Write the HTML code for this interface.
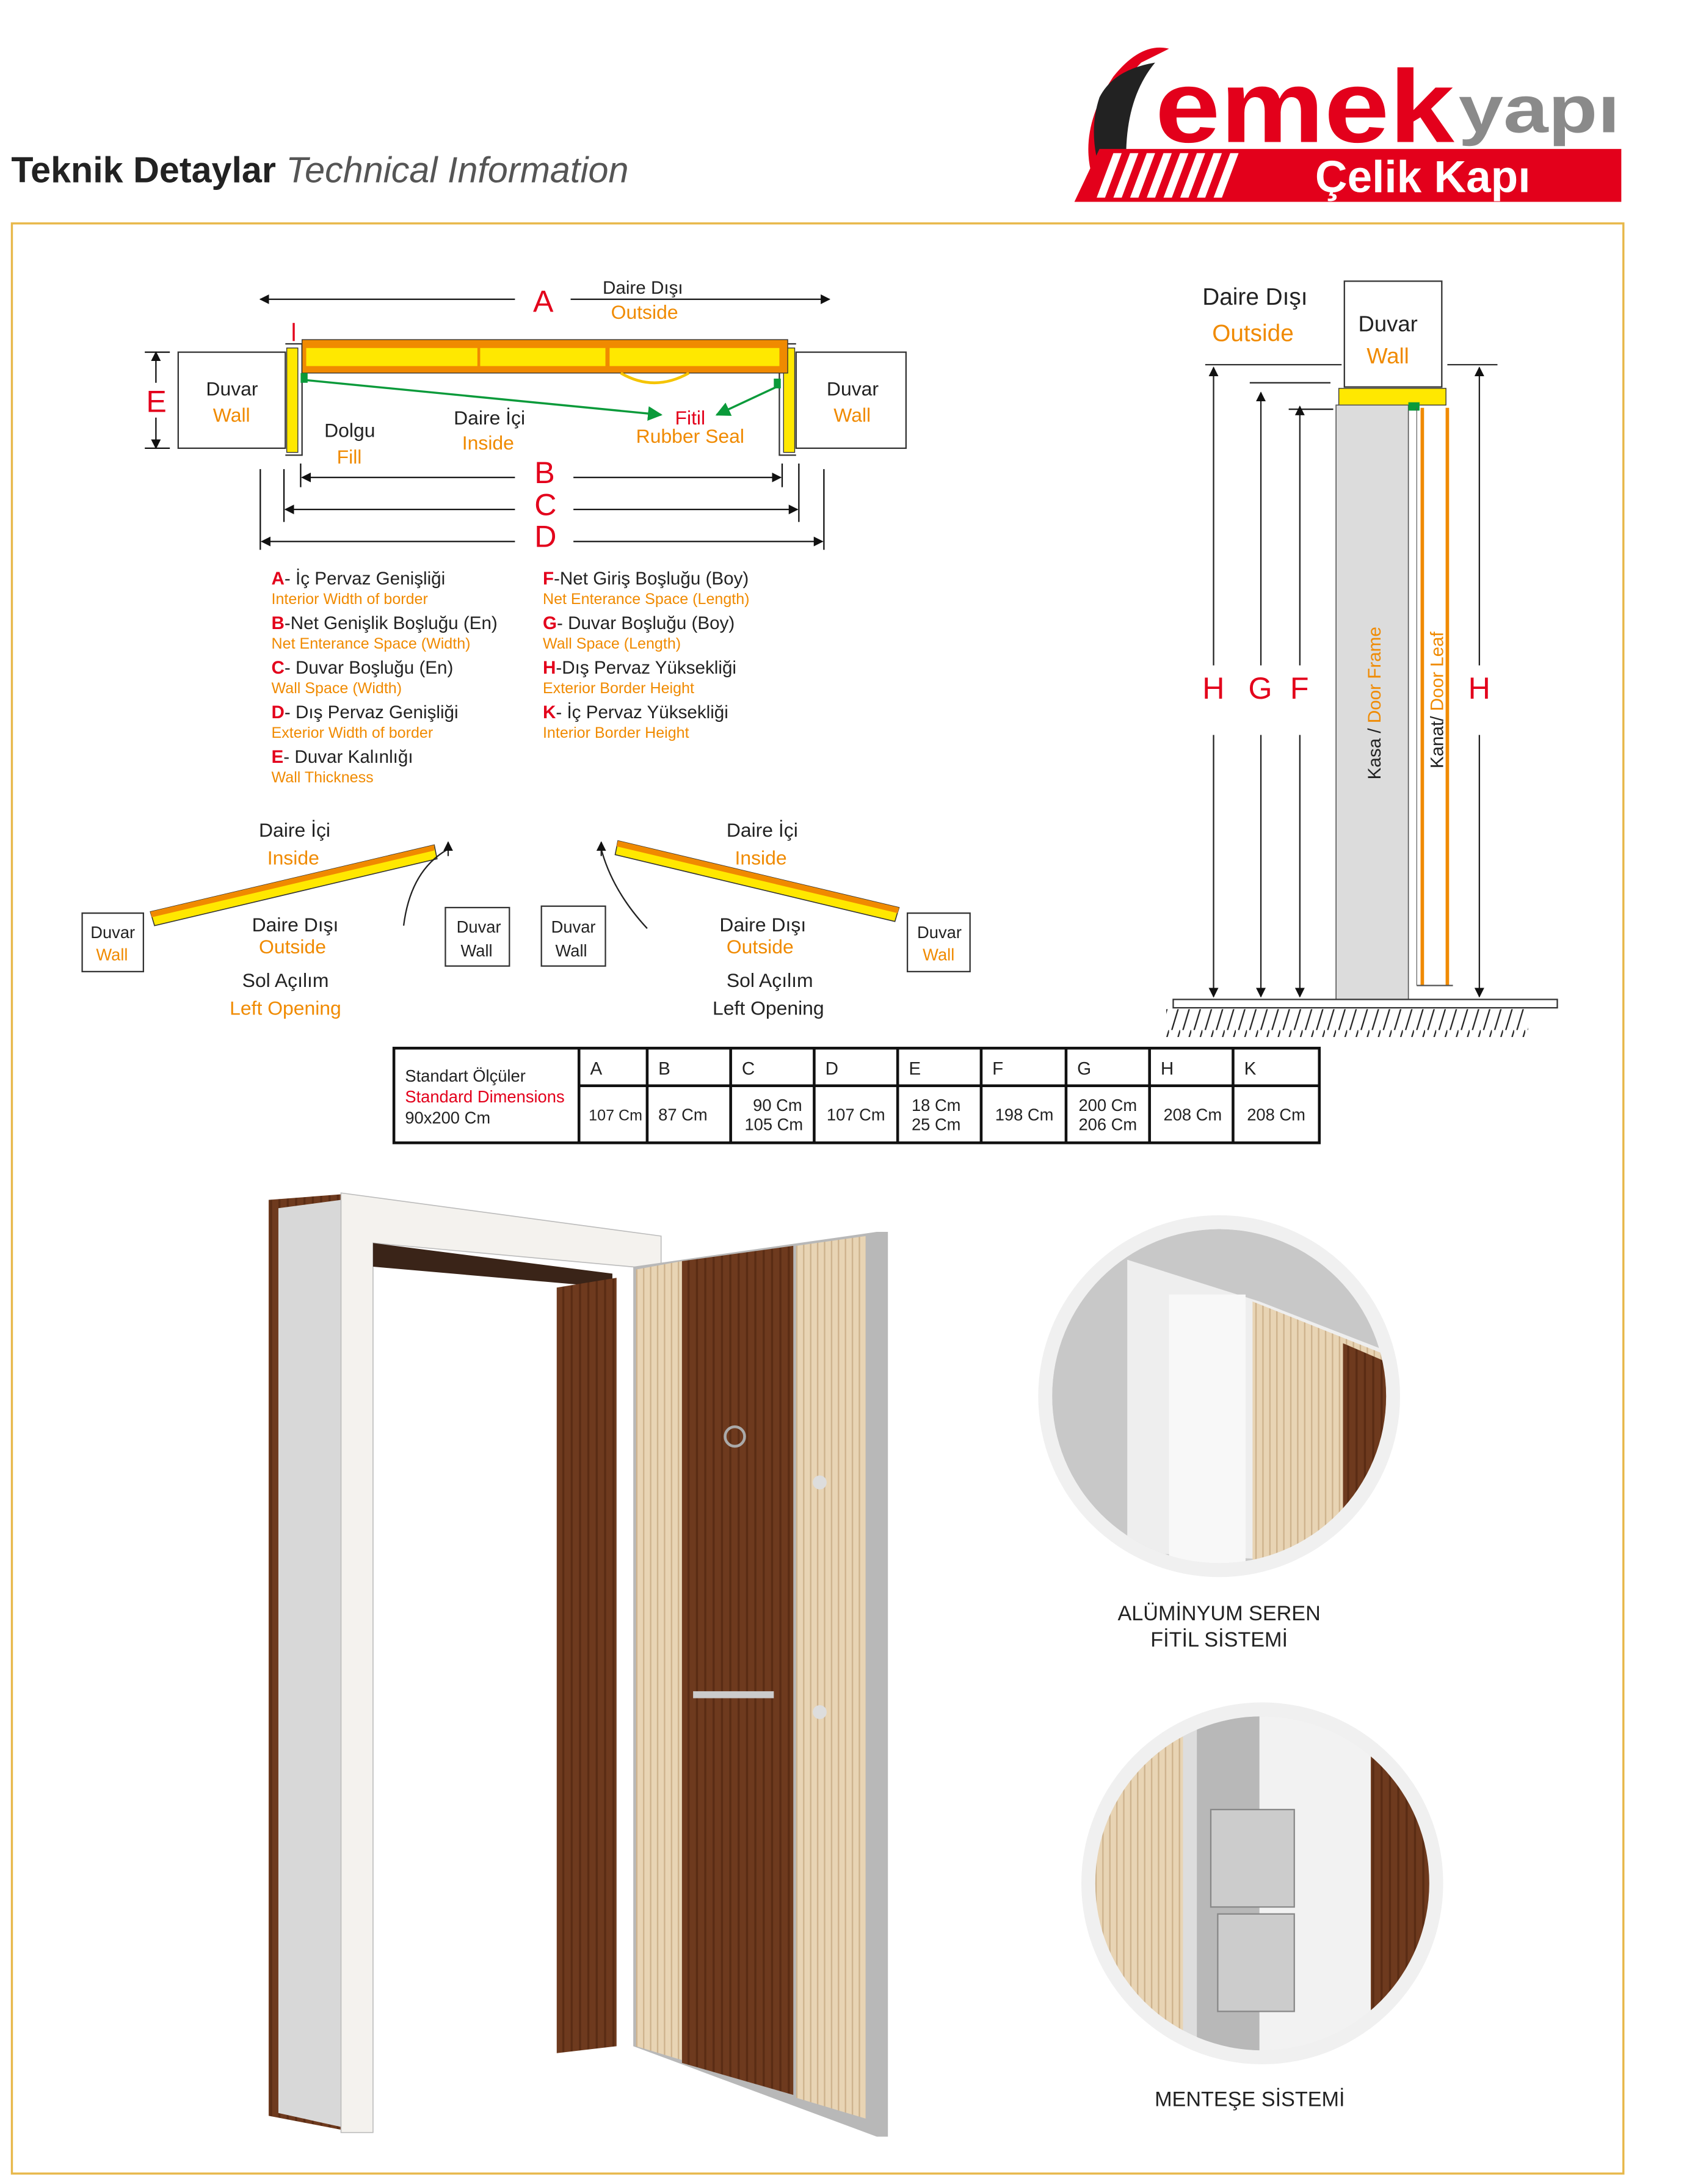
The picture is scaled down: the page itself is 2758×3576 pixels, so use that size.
<!DOCTYPE html>
<html><head><meta charset="utf-8"><style>
html,body{margin:0;padding:0;background:#fff}
svg{display:block}
text{font-family:"Liberation Sans Narrow","Liberation Sans",sans-serif}
.k{fill:#222}.o{fill:#f08a00}.r{fill:#e3001b}
</style></head><body>
<svg width="2758" height="3576" viewBox="0 0 1210 1569" xmlns="http://www.w3.org/2000/svg">
<defs>
<marker id="ar" viewBox="0 0 10 10" refX="9" refY="5" markerWidth="7" markerHeight="7" orient="auto-start-reverse"><path d="M0,0L10,5L0,10z" fill="#111"/></marker>
<marker id="ag" viewBox="0 0 10 10" refX="9" refY="5" markerWidth="7" markerHeight="7" orient="auto"><path d="M0,0L10,5L0,10z" fill="#0a9a3a"/></marker>
<pattern id="wood" width="6" height="40" patternUnits="userSpaceOnUse"><rect width="6" height="40" fill="#6e3a1e"/><rect x="2" width="1.5" height="40" fill="#5a2c14"/></pattern>
<pattern id="lwood" width="5" height="40" patternUnits="userSpaceOnUse"><rect width="5" height="40" fill="#e8d4b4"/><rect x="2" width="1" height="40" fill="#cdb28c"/></pattern>
<pattern id="hatch" width="8" height="20" patternUnits="userSpaceOnUse"><path d="M8,0L2,20" stroke="#222" stroke-width="1"/></pattern>
<clipPath id="c1"><circle cx="876" cy="1003" r="120"/></clipPath>
<clipPath id="c2"><circle cx="907" cy="1353" r="120"/></clipPath>
</defs>

<!-- title -->
<text x="8" y="131" font-size="26" font-weight="bold" fill="#222" style="font-family:'Liberation Sans',sans-serif">Teknik Detaylar <tspan font-style="italic" font-weight="normal" fill="#555">Technical  Information</tspan></text>

<!-- logo -->
<path d="M800,55 Q820,30 840,35 L820,45 Q795,70 800,110 L790,140 Q770,100 800,55z" fill="#e3001b"/>
<path d="M790,70 Q800,50 830,45 Q805,75 810,130 L795,135 Q780,100 790,70z" fill="#222"/>
<text x="830" y="102" font-size="74" font-weight="bold" fill="#e3001b" style="font-family:'Liberation Sans',sans-serif" textLength="215" lengthAdjust="spacingAndGlyphs">emek</text>
<text x="1048" y="95" font-size="48" font-weight="bold" fill="#8a8a8a" style="font-family:'Liberation Sans',sans-serif" textLength="116" lengthAdjust="spacingAndGlyphs">yapı</text>
<path d="M790,107 L1165,107 L1165,145 L772,145z" fill="#e3001b"/>
<g fill="#fff"><path d="M800,110h6l-12,32h-6z"/><path d="M812,110h6l-12,32h-6z"/><path d="M824,110h6l-12,32h-6z"/><path d="M836,110h6l-12,32h-6z"/><path d="M848,110h6l-12,32h-6z"/><path d="M860,110h6l-12,32h-6z"/><path d="M872,110h6l-12,32h-6z"/><path d="M884,110h6l-12,32h-6z"/></g>
<text x="945" y="138" font-size="32" font-weight="bold" fill="#fff" style="font-family:'Liberation Sans',sans-serif">Çelik Kapı</text>

<rect x="8.5" y="160.5" width="1158" height="1401" fill="none" stroke="#e8b84a" stroke-width="1.5"/>

<!-- top plan diagram -->
<line x1="187" y1="215" x2="370" y2="215" stroke="#111" marker-start="url(#ar)"/>
<line x1="410" y1="215" x2="596" y2="215" stroke="#111" marker-end="url(#ar)"/>
<text x="383" y="224" font-size="22" class="r">A</text>
<text x="433" y="211" font-size="13" class="k">Daire Dışı</text>
<text x="439" y="229" font-size="14" class="o">Outside</text>
<rect x="128" y="253" width="77" height="69" fill="#fff" stroke="#333"/>
<rect x="572" y="253" width="79" height="69" fill="#fff" stroke="#333"/>
<text x="148" y="284" font-size="14" class="k">Duvar</text><text x="153" y="303" font-size="14" class="o">Wall</text>
<text x="594" y="284" font-size="14" class="k">Duvar</text><text x="599" y="303" font-size="14" class="o">Wall</text>
<path d="M205,247h12v80h-12" fill="none" stroke="#333"/>
<rect x="206" y="250" width="8" height="75" fill="#ffe800" stroke="#333" stroke-width=".6"/>
<path d="M572,247h-12v80h12" fill="none" stroke="#333"/>
<rect x="563" y="250" width="8" height="75" fill="#ffe800" stroke="#333" stroke-width=".6"/>
<rect x="217" y="244" width="349" height="24" fill="#f08a00" stroke="#333" stroke-width=".6"/>
<rect x="220" y="250" width="123" height="13" fill="#ffe800"/><rect x="345" y="250" width="90" height="13" fill="#ffe800"/><rect x="438" y="250" width="122" height="13" fill="#ffe800"/>
<path d="M446,268 Q470,282 495,268" fill="none" stroke="#f5c400" stroke-width="2"/>
<line x1="211" y1="245" x2="211" y2="232" stroke="#e3001b" stroke-width="1.5"/>
<line x1="219" y1="273" x2="475" y2="298" stroke="#0a9a3a" stroke-width="1.5" marker-end="url(#ag)"/>
<line x1="560" y1="277" x2="515" y2="298" stroke="#0a9a3a" stroke-width="1.5" marker-end="url(#ag)"/>
<rect x="216" y="268" width="5" height="7" fill="#0a9a3a"/><rect x="556" y="272" width="5" height="7" fill="#0a9a3a"/>
<line x1="112" y1="253" x2="112" y2="275" stroke="#111" marker-start="url(#ar)"/><line x1="112" y1="300" x2="112" y2="322" stroke="#111" marker-end="url(#ar)"/>
<line x1="104" y1="253" x2="122" y2="253" stroke="#111"/><line x1="104" y1="322" x2="122" y2="322" stroke="#111"/>
<text x="105" y="296" font-size="22" class="r">E</text>
<text x="233" y="314" font-size="14" class="k">Dolgu</text><text x="242" y="333" font-size="14" class="o">Fill</text>
<text x="326" y="305" font-size="14" class="k">Daire İçi</text><text x="332" y="323" font-size="14" class="o">Inside</text>
<text x="485" y="305" font-size="14" class="r">Fitil</text><text x="457" y="318" font-size="14" class="o">Rubber Seal</text>
<g stroke="#111">
<line x1="187" y1="337" x2="187" y2="395"/><line x1="204" y1="337" x2="204" y2="375"/><line x1="216" y1="333" x2="216" y2="350"/>
<line x1="562" y1="333" x2="562" y2="350"/><line x1="574" y1="333" x2="574" y2="375"/><line x1="592" y1="337" x2="592" y2="395"/>
<line x1="217" y1="343" x2="370" y2="343" marker-start="url(#ar)"/><line x1="412" y1="343" x2="561" y2="343" marker-end="url(#ar)"/>
<line x1="205" y1="366" x2="370" y2="366" marker-start="url(#ar)"/><line x1="412" y1="366" x2="573" y2="366" marker-end="url(#ar)"/>
<line x1="188" y1="389" x2="370" y2="389" marker-start="url(#ar)"/><line x1="412" y1="389" x2="591" y2="389" marker-end="url(#ar)"/>
</g>
<text x="384" y="347" font-size="22" class="r">B</text><text x="384" y="370" font-size="22" class="r">C</text><text x="384" y="393" font-size="22" class="r">D</text>

<!-- legend -->
<g font-size="13">
<text x="195" y="420" class="k"><tspan class="r" font-weight="bold">A</tspan>- İç Pervaz Genişliği</text><text x="195" y="434" font-size="11" class="o">Interior Width of border</text>
<text x="195" y="452" class="k"><tspan class="r" font-weight="bold">B</tspan>-Net Genişlik Boşluğu (En)</text><text x="195" y="466" font-size="11" class="o">Net Enterance Space (Width)</text>
<text x="195" y="484" class="k"><tspan class="r" font-weight="bold">C</tspan>- Duvar Boşluğu (En)</text><text x="195" y="498" font-size="11" class="o">Wall Space (Width)</text>
<text x="195" y="516" class="k"><tspan class="r" font-weight="bold">D</tspan>- Dış Pervaz Genişliği</text><text x="195" y="530" font-size="11" class="o">Exterior Width of border</text>
<text x="195" y="548" class="k"><tspan class="r" font-weight="bold">E</tspan>- Duvar Kalınlığı</text><text x="195" y="562" font-size="11" class="o">Wall Thickness</text>
<text x="390" y="420" class="k"><tspan class="r" font-weight="bold">F</tspan>-Net Giriş Boşluğu (Boy)</text><text x="390" y="434" font-size="11" class="o">Net Enterance Space (Length)</text>
<text x="390" y="452" class="k"><tspan class="r" font-weight="bold">G</tspan>- Duvar Boşluğu (Boy)</text><text x="390" y="466" font-size="11" class="o">Wall Space (Length)</text>
<text x="390" y="484" class="k"><tspan class="r" font-weight="bold">H</tspan>-Dış Pervaz Yüksekliği</text><text x="390" y="498" font-size="11" class="o">Exterior Border Height</text>
<text x="390" y="516" class="k"><tspan class="r" font-weight="bold">K</tspan>- İç Pervaz Yüksekliği</text><text x="390" y="530" font-size="11" class="o">Interior Border Height</text>
</g>

<!-- opening diagrams -->
<g font-size="14">
<text x="186" y="601" class="k">Daire İçi</text><text x="192" y="621" class="o">Inside</text>
<rect x="59" y="656" width="44" height="42" fill="#fff" stroke="#333"/><text x="65" y="674" font-size="12" class="k">Duvar</text><text x="69" y="690" font-size="12" class="o">Wall</text>
<path d="M108,655 L312,607 L314,617 L111,665z" fill="#ffe800" stroke="#333" stroke-width=".7"/>
<path d="M108,655 L312,607 L312,611 L109,659z" fill="#f08a00"/>
<path d="M290,665 Q295,625 322,610" fill="none" stroke="#222"/><line x1="322" y1="615" x2="322" y2="605" stroke="#222" marker-end="url(#ar)"/>
<rect x="320" y="652" width="46" height="42" fill="#fff" stroke="#333"/><text x="328" y="670" font-size="12" class="k">Duvar</text><text x="331" y="687" font-size="12" class="k">Wall</text>
<text x="181" y="669" class="k">Daire Dışı</text><text x="186" y="685" class="o">Outside</text>
<text x="174" y="709" class="k">Sol Açılım</text><text x="165" y="729" class="o">Left Opening</text>

<text x="522" y="601" class="k">Daire İçi</text><text x="528" y="621" class="o">Inside</text>
<rect x="389" y="651" width="46" height="43" fill="#fff" stroke="#333"/><text x="396" y="670" font-size="12" class="k">Duvar</text><text x="399" y="687" font-size="12" class="k">Wall</text>
<path d="M444,604 L646,652 L643,662 L442,614z" fill="#ffe800" stroke="#333" stroke-width=".7"/>
<path d="M444,604 L646,652 L645,656 L443,608z" fill="#f08a00"/>
<path d="M465,667 Q440,640 432,610" fill="none" stroke="#222"/><line x1="432" y1="615" x2="432" y2="605" stroke="#222" marker-end="url(#ar)"/>
<rect x="652" y="656" width="45" height="42" fill="#fff" stroke="#333"/><text x="659" y="674" font-size="12" class="k">Duvar</text><text x="663" y="690" font-size="12" class="o">Wall</text>
<text x="517" y="669" class="k">Daire Dışı</text><text x="522" y="685" class="o">Outside</text>
<text x="522" y="709" class="k">Sol Açılım</text><text x="512" y="729" class="k">Left Opening</text>
</g>

<!-- right section -->
<text x="864" y="219" font-size="17" class="k">Daire Dışı</text><text x="871" y="245" font-size="17" class="o">Outside</text>
<rect x="966" y="202" width="70" height="76" fill="#fff" stroke="#333"/>
<text x="976" y="238" font-size="16" class="k">Duvar</text><text x="982" y="261" font-size="16" class="o">Wall</text>
<line x1="866" y1="262" x2="964" y2="262" stroke="#333"/><line x1="1040" y1="262" x2="1076" y2="262" stroke="#333"/>
<rect x="962" y="279" width="77" height="12" fill="#ffe800" stroke="#333" stroke-width=".6"/>
<rect x="960" y="291" width="52" height="427" fill="#dcdcdc" stroke="#555" stroke-width=".7"/>
<rect x="1012" y="289" width="8" height="6" fill="#0a9a3a"/>
<line x1="1022" y1="293" x2="1022" y2="708" stroke="#f08a00" stroke-width="2.5"/>
<line x1="1040" y1="293" x2="1040" y2="708" stroke="#f08a00" stroke-width="2.5"/>
<line x1="1018" y1="708" x2="1044" y2="708" stroke="#555"/>
<line x1="1018" y1="293" x2="1018" y2="708" stroke="#555" stroke-width=".5"/>
<text transform="translate(992,560) rotate(-90)" font-size="13"><tspan class="k">Kasa / </tspan><tspan class="o">Door Frame</tspan></text>
<text transform="translate(1037,552) rotate(-90)" font-size="13"><tspan class="k">Kanat/ </tspan><tspan class="o">Door Leaf</tspan></text>
<g stroke="#222">
<line x1="872" y1="264" x2="872" y2="478" marker-start="url(#ar)"/><line x1="872" y1="528" x2="872" y2="716" marker-end="url(#ar)"/>
<line x1="898" y1="275" x2="956" y2="275"/><line x1="906" y1="282" x2="906" y2="478" marker-start="url(#ar)"/><line x1="906" y1="528" x2="906" y2="716" marker-end="url(#ar)"/>
<line x1="926" y1="294" x2="958" y2="294"/><line x1="934" y1="292" x2="934" y2="478" marker-start="url(#ar)"/><line x1="934" y1="528" x2="934" y2="716" marker-end="url(#ar)"/>
<line x1="1063" y1="264" x2="1063" y2="478" marker-start="url(#ar)"/><line x1="1063" y1="528" x2="1063" y2="716" marker-end="url(#ar)"/>
</g>
<g font-size="22" class="r"><text x="864" y="502">H</text><text x="897" y="502">G</text><text x="927" y="502">F</text><text x="1055" y="502">H</text></g>
<rect x="843" y="718" width="276" height="6" fill="#fff" stroke="#333"/>
<rect x="838" y="725" width="260" height="20" fill="url(#hatch)"/>

<!-- table -->
<g stroke="#111" stroke-width="2" fill="none">
<rect x="283" y="753" width="665" height="68"/>
<line x1="416" y1="753" x2="416" y2="821"/><line x1="416" y1="780" x2="948" y2="780"/>
<line x1="465" y1="753" x2="465" y2="821"/><line x1="525" y1="753" x2="525" y2="821"/><line x1="585" y1="753" x2="585" y2="821"/><line x1="645" y1="753" x2="645" y2="821"/><line x1="705" y1="753" x2="705" y2="821"/><line x1="766" y1="753" x2="766" y2="821"/><line x1="826" y1="753" x2="826" y2="821"/><line x1="886" y1="753" x2="886" y2="821"/>
</g>
<g font-size="12" class="k">
<text x="291" y="777">Standart Ölçüler</text><text x="291" y="792" class="r">Standard Dimensions</text><text x="291" y="807">90x200 Cm</text>
<text x="424" y="772" font-size="13">A</text><text x="473" y="772" font-size="13">B</text><text x="533" y="772" font-size="13">C</text><text x="593" y="772" font-size="13">D</text><text x="653" y="772" font-size="13">E</text><text x="713" y="772" font-size="13">F</text><text x="774" y="772" font-size="13">G</text><text x="834" y="772" font-size="13">H</text><text x="894" y="772" font-size="13">K</text>
<text x="423" y="805" font-size="11">107 Cm</text><text x="473" y="805">87 Cm</text><text x="541" y="798">90 Cm</text><text x="535" y="812">105 Cm</text><text x="594" y="805">107 Cm</text><text x="655" y="798">18 Cm</text><text x="655" y="812">25 Cm</text><text x="715" y="805">198 Cm</text><text x="775" y="798">200 Cm</text><text x="775" y="812">206 Cm</text><text x="836" y="805">208 Cm</text><text x="896" y="805">208 Cm</text>
</g>

<!-- door photo approximation -->
<path d="M193,862 L245,858 L245,1530 L193,1520z" fill="url(#wood)"/>
<path d="M200,868 L245,862 L245,1528 L200,1518z" fill="#d8d8d8"/>
<path d="M245,857 L475,888 L475,912 L268,893 L268,1532 L245,1532z" fill="#f4f2ee" stroke="#bbb" stroke-width=".7"/>
<path d="M268,893 L440,915 L440,925 L268,910z" fill="#3a2418"/>
<path d="M400,925 L443,918 L443,1470 L400,1475z" fill="url(#wood)"/>
<path d="M455,910 L630,885 L638,885 L638,1535 L630,1535 L455,1470z" fill="#b8b8b8"/>
<path d="M457,912 L490,906 L490,1480 L457,1470z" fill="url(#lwood)"/>
<path d="M490,906 L570,895 L570,1505 L490,1482z" fill="url(#wood)"/>
<path d="M572,895 L622,888 L622,1522 L572,1507z" fill="url(#lwood)"/>
<rect x="498" y="1215" width="58" height="5" fill="#ccc"/>
<circle cx="528" cy="1032" r="7" fill="none" stroke="#aaa" stroke-width="2"/>
<circle cx="589" cy="1065" r="5" fill="#ddd"/><circle cx="589" cy="1230" r="5" fill="#ddd"/>

<!-- circles -->
<circle cx="876" cy="1003" r="130" fill="#f0f0f0"/>
<g clip-path="url(#c1)">
<circle cx="876" cy="1003" r="120" fill="#c8c8c8"/>
<path d="M810,905 L905,935 L995,970 L995,1080 Q950,1115 905,1120 L810,1115z" fill="#eee"/>
<path d="M900,935 L1000,975 L1000,1130 L900,1130z" fill="url(#lwood)"/>
<path d="M965,965 L1000,980 L1000,1130 L965,1130z" fill="url(#wood)"/>
<rect x="840" y="930" width="55" height="200" fill="#f8f8f8"/>
</g>
<text x="876" y="1164" font-size="15" text-anchor="middle" class="k">ALÜMİNYUM SEREN</text>
<text x="876" y="1183" font-size="15" text-anchor="middle" class="k">FİTİL SİSTEMİ</text>
<circle cx="907" cy="1353" r="130" fill="#f0f0f0"/>
<g clip-path="url(#c2)">
<circle cx="907" cy="1353" r="120" fill="#ddd"/>
<rect x="780" y="1230" width="70" height="250" fill="url(#lwood)"/>
<rect x="860" y="1230" width="45" height="250" fill="#b8b8b8"/>
<rect x="905" y="1230" width="80" height="250" fill="#f2f2f2"/>
<rect x="985" y="1230" width="50" height="250" fill="url(#wood)"/>
<rect x="870" y="1300" width="60" height="70" fill="#ccc" stroke="#888"/>
<rect x="875" y="1375" width="55" height="70" fill="#ccc" stroke="#888"/>
</g>
<text x="898" y="1513" font-size="15" text-anchor="middle" class="k">MENTEŞE SİSTEMİ</text>
</svg>
</body></html>
